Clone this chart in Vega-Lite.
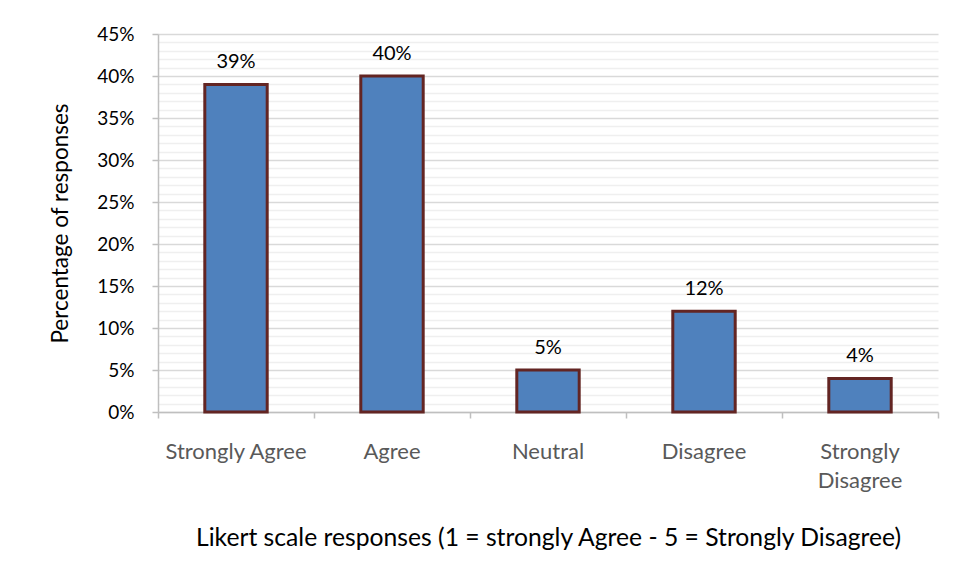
{
  "$schema": "https://vega.github.io/schema/vega-lite/v6.json",
  "width": 780,
  "height": 378,
  "autosize": {"type": "none"},
  "padding": {"left": 158, "top": 34, "right": 16, "bottom": 164},
  "background": "white",
  "config": {
    "font": "Lato",
    "view": {"stroke": null}
  },
  "data": {
    "values": [
      {"response": "Strongly Agree", "share": 0.39},
      {"response": "Agree", "share": 0.40},
      {"response": "Neutral", "share": 0.05},
      {"response": "Disagree", "share": 0.12},
      {"response": "Strongly Disagree", "share": 0.04}
    ]
  },
  "encoding": {
    "x": {
      "field": "response",
      "type": "nominal",
      "sort": null,
      "scale": {"paddingInner": 0, "paddingOuter": 0},
      "axis": {
        "title": "Likert scale responses (1 = strongly Agree - 5 = Strongly Disagree)",
        "titleFont": "Lato",
        "titleFontSize": 24.7,
        "titleFontWeight": "normal",
        "titleColor": "#000000",
        "titlePadding": 34,
        "labelAngle": 0,
        "labelFontSize": 22,
        "labelColor": "#595959",
        "labelPadding": 23,
        "labelLineHeight": 29,
        "labelExpr": "datum.label == 'Strongly Disagree' ? ['Strongly', 'Disagree'] : datum.label",
        "bandPosition": 1,
        "tickExtra": true,
        "tickSize": 6,
        "tickColor": "#bfbfbf",
        "tickWidth": 1.5,
        "domainColor": "#bfbfbf",
        "domainWidth": 1.5,
        "grid": false
      }
    },
    "y": {
      "field": "share",
      "type": "quantitative",
      "scale": {"domain": [0, 0.45], "nice": false},
      "axis": {
        "title": "Percentage of responses",
        "titleFont": "Lato",
        "titleFontSize": 22.5,
        "titleFontWeight": "normal",
        "titleColor": "#000000",
        "titlePadding": 24,
        "values": [0, 0.01, 0.02, 0.03, 0.04, 0.05, 0.06, 0.07, 0.08, 0.09, 0.1, 0.11, 0.12, 0.13, 0.14, 0.15, 0.16, 0.17, 0.18, 0.19, 0.2, 0.21, 0.22, 0.23, 0.24, 0.25, 0.26, 0.27, 0.28, 0.29, 0.3, 0.31, 0.32, 0.33, 0.34, 0.35, 0.36, 0.37, 0.38, 0.39, 0.4, 0.41, 0.42, 0.43, 0.44, 0.45],
        "format": ".0%",
        "labelExpr": "round(datum.value * 100) % 5 == 0 ? datum.label : ''",
        "labelFontSize": 19,
        "labelColor": "#000000",
        "labelPadding": 18,
        "tickSize": 6,
        "tickColor": "#bfbfbf",
        "tickWidth": 1.5,
        "tickOpacity": {"condition": {"test": "round(datum.value * 100) % 5 == 0", "value": 1}, "value": 0},
        "domainColor": "#bfbfbf",
        "domainWidth": 1.5,
        "grid": true,
        "gridColor": {"condition": {"test": "round(datum.value * 100) % 5 == 0", "value": "#d9d9d9"}, "value": "#efefef"},
        "gridWidth": 1.5
      }
    }
  },
  "layer": [
    {
      "mark": {"type": "bar", "width": {"band": 0.4}, "fill": "#4f81bd", "stroke": "#632523", "strokeWidth": 3}
    },
    {
      "mark": {"type": "text", "baseline": "bottom", "dy": -12, "fontSize": 20, "color": "#000000"},
      "encoding": {
        "text": {"field": "share", "type": "quantitative", "format": ".0%"}
      }
    }
  ]
}
